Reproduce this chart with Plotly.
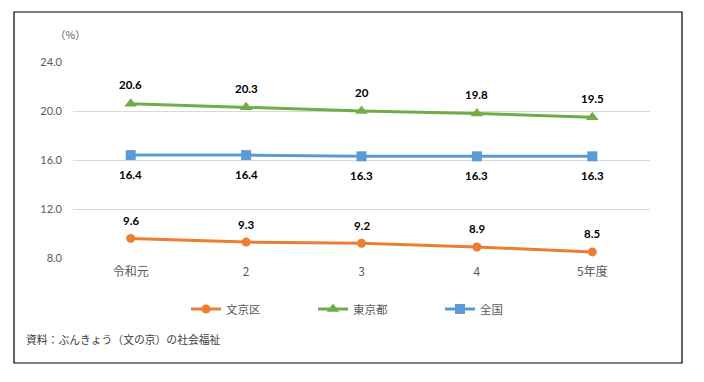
import plotly.graph_objects as go

categories = ["令和元", "2", "3", "4", "5年度"]
bunkyo = [9.6, 9.3, 9.2, 8.9, 8.5]
tokyo = [20.6, 20.3, 20.0, 19.8, 19.5]
zenkoku = [16.4, 16.4, 16.3, 16.3, 16.3]
tokyo_labels = ["20.6", "20.3", "20", "19.8", "19.5"]
y_ticks = [8, 12, 16, 20, 24]
y_ticklabels = ["8.0", "12.0", "16.0", "20.0", "24.0"]

FONT = "Lato, 'Noto Sans CJK JP', sans-serif"
JP = "'Noto Sans CJK JP', sans-serif"

series = [
    ("文京区", bunkyo, "#ED7D31", "circle", 9, [f"{v:.1f}" for v in bunkyo], -18),
    ("東京都", tokyo, "#70AD47", "triangle-up", 11, tokyo_labels, -19),
    ("全国", zenkoku, "#5B9BD5", "square", 10, [f"{v:.1f}" for v in zenkoku], 19),
]

fig = go.Figure()
annotations = []
for name, vals, color, sym, size, labels, shift in series:
    fig.add_trace(go.Scatter(
        x=categories, y=vals, name=name, mode="lines+markers",
        line=dict(color=color, width=3),
        marker=dict(symbol=sym, size=size, color=color),
    ))
    for i, (v, t) in enumerate(zip(vals, labels)):
        annotations.append(dict(
            x=i, y=v, xref="x", yref="y", text=f"<b>{t}</b>", showarrow=False,
            yshift=-shift, font=dict(family=FONT, size=11.5, color="#000000"),
        ))

annotations.append(dict(
    x=(70 - 73) / 577, y=(258 - 34) / 196, xref="paper", yref="paper", text="（%）", showarrow=False,
    xanchor="center", yanchor="middle", font=dict(family=JP, size=10.5, color="#595959"),
))
annotations.append(dict(
    x=(24 - 73) / 577, y=(258 - 339) / 196, xref="paper", yref="paper",
    text="資料：ぶんきょう（文の京）の社会福祉", showarrow=False,
    xanchor="left", yanchor="middle", font=dict(family=JP, size=10.8, color="#404040"),
))

fig.update_layout(
    width=704, height=382,
    margin=dict(l=73, r=54, t=62, b=124, autoexpand=False),
    paper_bgcolor="white", plot_bgcolor="white",
    font=dict(family=FONT, color="#595959"),
    annotations=annotations,
    showlegend=True,
    legend=dict(
        orientation="h", x=(186 - 73) / 577, y=(258 - 309) / 196,
        xanchor="left", yanchor="middle",
        entrywidth=82, entrywidthmode="pixels",
        font=dict(family=JP, size=11.5, color="#595959"),
        bgcolor="rgba(0,0,0,0)",
    ),
    shapes=[dict(
        type="rect", xref="paper", yref="paper",
        x0=(14 - 73) / 577, x1=(682 - 73) / 577,
        y0=(258 - 363) / 196, y1=(258 - 12) / 196,
        line=dict(color="black", width=1.2), fillcolor="rgba(0,0,0,0)", layer="below",
    )],
)
fig.update_xaxes(
    type="category", range=[-0.5, 4.5], showgrid=False, showline=False,
    ticks="", tickfont=dict(family=JP, size=12, color="#595959"),
    ticklabelstandoff=5,
)
fig.update_yaxes(
    range=[8, 24], tickvals=y_ticks, ticktext=y_ticklabels,
    showgrid=True, gridcolor="#D9D9D9", gridwidth=1, zeroline=False,
    showline=False, ticks="", tickfont=dict(family=FONT, size=11, color="#595959"),
    ticklabelstandoff=10,
)
fig.write_html(
    "out.html",
    config={"displayModeBar": False},
    post_script="document.body.style.margin='0';document.body.style.overflow='hidden';",
)
